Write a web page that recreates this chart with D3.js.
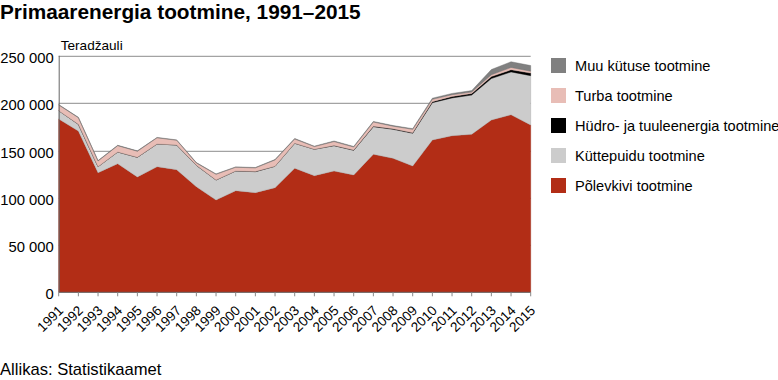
<!DOCTYPE html>
<html lang="et">
<head>
<meta charset="UTF-8">
<title>Primaarenergia tootmine</title>
<script src="https://d3js.org/d3.v7.min.js"></script>
<style>
  body { margin: 0; background: #fff; }
  svg { font-family: "Liberation Sans", Arial, sans-serif; }
  .grid line { stroke: #8c8c8c; stroke-width: 1px; }
  .axis text { font-size: 14.8px; fill: #000; }
</style>
</head>
<body>
<script>

// years on the x axis
var years = d3.range(1991, 2016);

// Teradžauli
var polevkivi = [183200,170500,126400,136000,121900,132800,129600,111700,97600,107400,105300,110600,
                 131100,123300,128200,124000,145900,141600,133500,161000,165500,167000,182100,187700,176800];
var kuttepuit = [8800,7100,6400,12300,20800,24000,26100,22500,21100,20800,22200,22600,
                 26400,27900,26800,26100,29200,30700,34600,39500,40000,41500,43900,45300,52200];
var hydro     = [30,20,20,20,20,30,20,30,60,80,130,130,80,100,140,280,320,480,690,1000,1400,1600,2000,2200,2700];
var turba     = [6000,7000,6000,6700,6400,6500,5000,2500,6000,3900,3900,6600,
                 4500,2700,4200,3200,4600,2800,3500,2500,2000,1600,2000,2500,2000];
var muu       = [400,400,400,400,400,400,400,400,400,400,400,500,500,500,600,600,600,700,700,1200,1300,1500,5500,6000,6000];

var yTicks = [0, 50000, 100000, 150000, 200000, 250000];

var series = [
  {key: "polevkivi", name: "Põlevkivi tootmine", color: "#b22d16", values: polevkivi},
  {key: "kuttepuit", name: "Küttepuidu tootmine", color: "#cccccc", values: kuttepuit},
  {key: "hydro", name: "Hüdro- ja tuuleenergia tootmine", color: "#000000", values: hydro},
  {key: "turba", name: "Turba tootmine", color: "#e8bdb6", values: turba},
  {key: "muu", name: "Muu kütuse tootmine", color: "#808080", values: muu}
];

var table = years.map(function(y, i) {
  var row = {year: y};
  series.forEach(function(s) { row[s.key] = s.values[i]; });
  return row;
});

var W = 778, H = 380;
var margin = {left: 58.7, right: 247.3, top: 55.8, bottom: 87.7};
var width = W - margin.left - margin.right,
    height = H - margin.top - margin.bottom;

var fmt = d3.formatLocale({decimal: ",", thousands: "\u00a0", grouping: [3], currency: ["", ""]}).format(",d");

var x = d3.scaleLinear().domain([1991, 2015]).range([0, width]);
var y = d3.scaleLinear().domain([0, 250000]).range([height, 0]);

var svg = d3.select("body").append("svg")
    .attr("width", W)
    .attr("height", H);

svg.append("text")
    .attr("x", 0).attr("y", 18.5)
    .style("font-size", "20.8px").style("font-weight", "bold")
    .text("Primaarenergia tootmine, 1991–2015");

var g = svg.append("g")
    .attr("transform", "translate(" + margin.left + "," + margin.top + ")");

// gridlines
g.append("g").attr("class", "grid")
  .selectAll("line")
  .data(yTicks.slice(1))
  .enter().append("line")
    .attr("x1", 0).attr("x2", width)
    .attr("y1", function(d) { return Math.round(y(d)) + 0.5; })
    .attr("y2", function(d) { return Math.round(y(d)) + 0.5; });

var stack = d3.stack().keys(series.map(function(s) { return s.key; }));
var layers = stack(table);

var area = d3.area()
    .x(function(d) { return x(d.data.year); })
    .y0(function(d) { return y(d[0]); })
    .y1(function(d) { return y(d[1]); });

g.selectAll(".layer")
  .data(layers)
  .enter().append("path")
    .attr("class", "layer")
    .attr("d", area)
    .attr("fill", function(d, i) { return series[i].color; })
    .attr("stroke", function(d, i) { return d3.color(series[i].color).darker(0.6); })
    .attr("stroke-width", 0.4);

// y axis labels
g.append("g").attr("class", "axis")
  .selectAll("text")
  .data(yTicks)
  .enter().append("text")
    .attr("x", -5)
    .attr("y", function(d) { return y(d) + 7.2; })
    .attr("text-anchor", "end")
    .text(function(d) { return fmt(d); });

// axis lines
g.append("line")
    .attr("x1", 0.5).attr("x2", 0.5)
    .attr("y1", 0).attr("y2", height)
    .attr("stroke", "#666");

var xAxis = g.append("g")
    .attr("transform", "translate(0," + height + ")");

xAxis.append("line")
    .attr("x1", 0).attr("x2", width)
    .attr("stroke", "#666");

xAxis.selectAll(".tick")
  .data(years)
  .enter().append("line")
    .attr("x1", function(d) { return x(d); })
    .attr("x2", function(d) { return x(d); })
    .attr("y1", 0).attr("y2", 4)
    .attr("stroke", "#888");

xAxis.selectAll(".lbl")
  .data(years)
  .enter().append("text")
    .attr("class", "lbl")
    .attr("transform", function(d) { return "translate(" + (x(d) + 5.5) + ",19) rotate(-45)"; })
    .attr("text-anchor", "end")
    .style("font-size", "13.6px")
    .text(function(d) { return d; });

g.append("text")
    .attr("x", 2).attr("y", -6)
    .style("font-size", "13.6px")
    .text("Teradžauli");

// legend, top item is the top layer
var legend = svg.append("g")
    .attr("transform", "translate(551,58)");

var legItems = series.slice().reverse();

legend.selectAll("rect")
  .data(legItems)
  .enter().append("rect")
    .attr("x", 0)
    .attr("y", function(d, i) { return i * 30; })
    .attr("width", 15).attr("height", 15)
    .attr("fill", function(d) { return d.color; });

legend.selectAll("text")
  .data(legItems)
  .enter().append("text")
    .attr("x", 24)
    .attr("y", function(d, i) { return i * 30 + 12.5; })
    .style("font-size", "14.6px")
    .text(function(d) { return d.name; });

svg.append("text")
    .attr("x", 0).attr("y", 375)
    .style("font-size", "16.6px")
    .text("Allikas: Statistikaamet");

</script>
</body>
</html>
